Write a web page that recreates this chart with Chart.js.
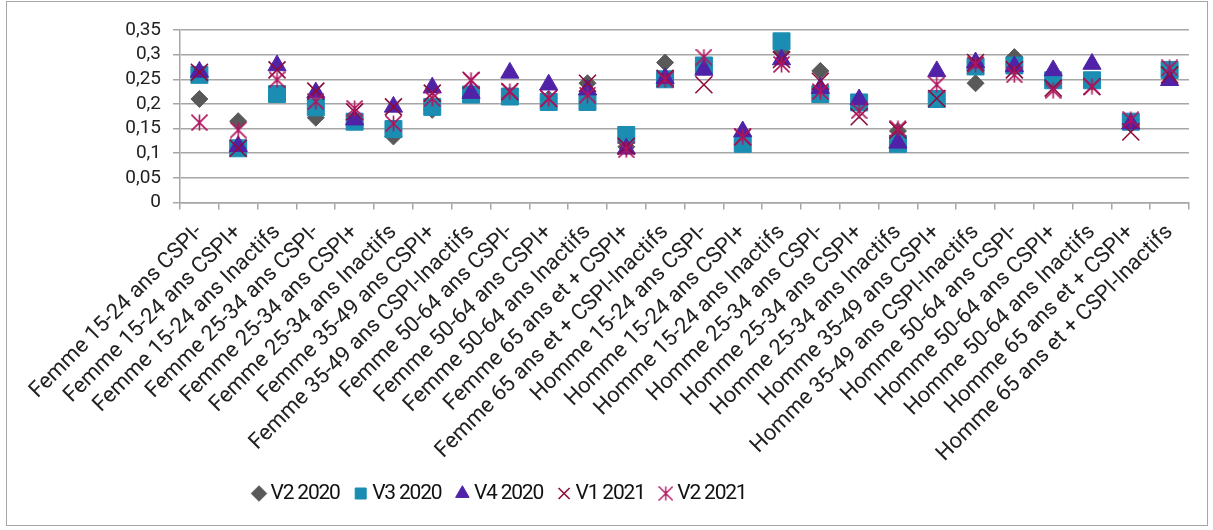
<!DOCTYPE html>
<html>
<head>
<meta charset="utf-8">
<script src="https://cdn.jsdelivr.net/npm/chart.js@4/dist/chart.umd.min.js"></script>
<style>
  html, body { margin: 0; padding: 0; background: #fff; }
  #wrap { position: relative; width: 1213px; height: 530px; }
  #frame { position: absolute; left: 6px; top: 1px; width: 1202px; height: 525px; border: 1.5px solid #a6a6a6; box-sizing: border-box; pointer-events: none; }
  canvas { position: absolute; left: 0; top: 0; }
</style>
</head>
<body>
<div id="wrap">
  <canvas id="c" width="1213" height="530"></canvas>
  <div id="frame"></div>
</div>
<script>
const categories = [
  "Femme 15-24 ans CSPI-", "Femme 15-24 ans CSPI+", "Femme 15-24 ans Inactifs",
  "Femme 25-34 ans CSPI-", "Femme 25-34 ans CSPI+", "Femme 25-34 ans Inactifs",
  "Femme 35-49 ans CSPI+", "Femme 35-49 ans CSPI-Inactifs",
  "Femme 50-64 ans CSPI-", "Femme 50-64 ans CSPI+", "Femme 50-64 ans Inactifs",
  "Femme 65 ans et + CSPI+", "Femme 65 ans et + CSPI-Inactifs",
  "Homme 15-24 ans CSPI-", "Homme 15-24 ans CSPI+", "Homme 15-24 ans Inactifs",
  "Homme 25-34 ans CSPI-", "Homme 25-34 ans CSPI+", "Homme 25-34 ans Inactifs",
  "Homme 35-49 ans CSPI+", "Homme 35-49 ans CSPI-Inactifs",
  "Homme 50-64 ans CSPI-", "Homme 50-64 ans CSPI+", "Homme 50-64 ans Inactifs",
  "Homme 65 ans et + CSPI+", "Homme 65 ans et + CSPI-Inactifs"
];
const seriesNames = ["V2 2020", "V3 2020", "V4 2020", "V1 2021", "V2 2021"];
const v2_2020 = [0.210,0.165,0.220,0.172,0.168,0.134,0.188,0.220,0.215,0.210,0.242,0.113,0.284,0.275,0.125,0.305,0.267,0.200,0.145,0.210,0.242,0.295,0.245,0.245,0.160,0.255];
const v3_2020 = [0.259,0.110,0.220,0.193,0.164,0.149,0.194,0.219,0.215,0.204,0.204,0.137,0.250,0.278,0.119,0.327,0.220,0.203,0.119,0.210,0.276,0.278,0.248,0.248,0.164,0.269];
const v4_2020 = [0.265,0.114,0.278,0.223,0.168,0.194,0.233,0.222,0.263,0.239,0.229,0.109,0.252,0.269,0.144,0.290,0.232,0.209,0.121,0.266,0.284,0.276,0.268,0.281,0.160,0.248];
const v1_2021 = [0.264,0.110,0.269,0.226,0.184,0.194,0.222,0.248,0.225,0.211,0.242,0.114,0.252,0.239,0.133,0.290,0.246,0.174,0.147,0.211,0.284,0.269,0.232,0.235,0.143,0.259];
const v2_2021 = [0.162,0.147,0.249,0.205,0.191,0.160,0.211,0.248,0.225,0.211,0.218,0.107,0.250,0.295,0.133,0.280,0.225,0.186,0.150,0.239,0.280,0.259,0.227,0.235,0.168,0.273];
const yTickMax = 0.35;
const yTickStep = 0.05;

const COLORS = {
  gray: '#595959', teal: '#1B8DB3', purple: '#4F22A8', red: '#8C0C3C', magenta: '#B0145E'
};

function makeStar(size, color, lw) {
  const c = document.createElement('canvas');
  c.width = size; c.height = size;
  const g = c.getContext('2d');
  g.strokeStyle = color; g.lineWidth = lw;
  const m = size / 2, r = size / 2 - 0.5;
  g.beginPath();
  g.moveTo(m, m - r); g.lineTo(m, m + r);
  g.moveTo(m - r, m - r); g.lineTo(m + r, m + r);
  g.moveTo(m + r, m - r); g.lineTo(m - r, m + r);
  g.stroke();
  return c;
}
const starImg = makeStar(17, COLORS.magenta, 1.6);
const starLegend = makeStar(15, COLORS.magenta, 1.4);

const legendShift = {
  id: 'legendShift',
  afterLayout(chart) {
    const lg = chart.legend;
    if (lg) {
      const w = lg.right - lg.left;
      lg.left = 238;
      lg.right = 238 + w;
      if (!lg._wrapped) {
        const orig = lg.draw;
        lg.draw = function () {
          const ctx = this.ctx;
          ctx.save();
          try { ctx.letterSpacing = '-1.2px'; } catch (e) {}
          orig.apply(this, arguments);
          ctx.restore();
        };
        lg._wrapped = true;
      }
    }
  }
};

const ds = (label, data, style, color, radius, order, extra) => Object.assign({
  label, data, showLine: false, pointStyle: style,
  pointRadius: radius, pointHoverRadius: radius,
  backgroundColor: color, borderColor: color, pointBorderWidth: 1, order
}, extra || {});

new Chart(document.getElementById('c'), {
  type: 'line',
  data: {
    labels: categories,
    datasets: [
      ds(seriesNames[0], v2_2020, 'rectRot', COLORS.gray, 8.5, 5),
      ds(seriesNames[1], v3_2020, 'rect', COLORS.teal, 12, 4),
      ds(seriesNames[2], v4_2020, 'triangle', COLORS.purple, 10.5, 3),
      ds(seriesNames[3], v1_2021, 'crossRot', COLORS.red, 12, 2, { pointBorderWidth: 1.6 }),
      ds(seriesNames[4], v2_2021, starImg, COLORS.magenta, 9, 1)
    ]
  },
  options: {
    responsive: false,
    animation: false,
    layout: { padding: { left: 10, right: 24, top: 30, bottom: 16 } },
    plugins: {
      tooltip: { enabled: false },
      legend: {
        position: 'bottom',
        align: 'start',
        labels: {
          usePointStyle: true,
          boxWidth: 2, boxHeight: 11,
          padding: 20,
          color: '#111',
          font: { family: "Roboto, sans-serif", size: 21 },
          sort: (a, b) => a.datasetIndex - b.datasetIndex,
          generateLabels(chart) {
            const items = Chart.defaults.plugins.legend.labels.generateLabels(chart);
            items.forEach(it => { if (it.datasetIndex === 4) it.pointStyle = starLegend; });
            return items;
          }
        }
      }
    },
    scales: {
      x: {
        offset: true,
        grid: { drawOnChartArea: false, drawTicks: true, tickLength: 7, offset: true, color: '#a6a6a6', lineWidth: 1.5 },
        border: { color: '#a6a6a6', width: 1.5 },
        ticks: {
          autoSkip: false, maxRotation: 45, minRotation: 45, padding: 10,
          color: '#222', font: { family: 'Roboto', size: 22 }
        },
        afterFit(scale) { scale.height = 260.5; }
      },
      y: {
        min: 0, max: yTickMax,
        grid: { color: '#a6a6a6', lineWidth: 1.5, tickLength: 7 },
        border: { color: '#a6a6a6', width: 1.5 },
        ticks: {
          autoSkip: false,
          stepSize: yTickStep, padding: 12, color: '#222',
          font: { family: 'Roboto', size: 19 },
          callback: v => String(Math.round(v * 100) / 100).replace('.', ',')
        },
        afterFit(scale) { scale.width = 170; }
      }
    }
  },
  plugins: [legendShift]
});
</script>
</body>
</html>
